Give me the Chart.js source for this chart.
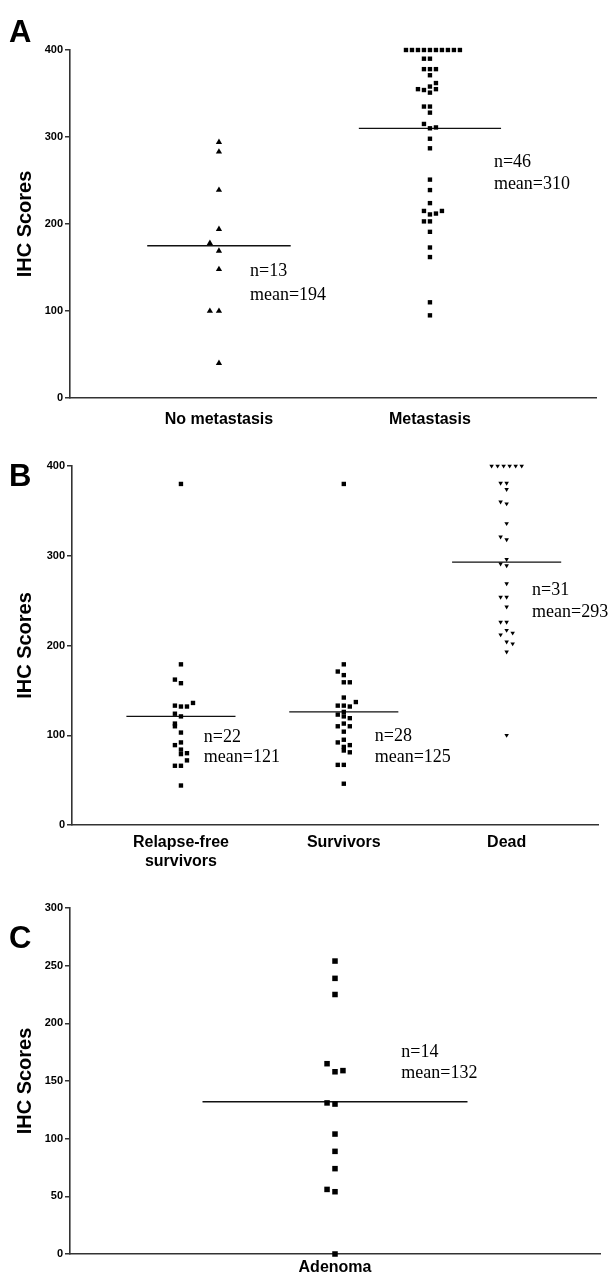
<!DOCTYPE html>
<html>
<head>
<meta charset="utf-8">
<script src="https://cdn.jsdelivr.net/npm/chart.js@4.4.1/dist/chart.umd.min.js"></script>
<style>
  html, body { margin: 0; padding: 0; background: #fff; }
  body { width: 611px; height: 1281px; position: relative; overflow: hidden; }
  canvas { position: absolute; left: 0; }
  .letter { position: absolute; left: 9px; font: bold 31px 'Liberation Sans', Arial, sans-serif; color: #000; line-height: 1; z-index: 2; }
</style>
</head>
<body>
<canvas id="chartA" width="611" height="440" style="top:0"></canvas>
<canvas id="chartB" width="611" height="440" style="top:440px"></canvas>
<canvas id="chartC" width="611" height="401" style="top:880px"></canvas>
<div class="letter" style="top:16px">A</div>
<div class="letter" style="top:460px">B</div>
<div class="letter" style="top:922px">C</div>
<script>
// ---- Panel A data ----
const catsA = ['No metastasis', 'Metastasis'];
const nA = [13, 46];
const meanTextA = [194, 310];
const meanLineA = [175, 310];
const noMetValues = [294, 283, 239, 194, 178, 169, 148, 100, 100, 40];
const noMetSlots  = [0, 0, 0, 0, -1, 0, 0, -1, 0, 0];
const metValues = [400, 400, 400, 400, 400, 400, 400, 400, 400, 400,
  390, 390, 378, 378, 378, 371, 362, 355, 354, 358, 351, 355,
  335, 335, 328, 315, 310, 311, 298, 287, 251, 239, 224,
  215, 211, 212, 215, 203, 203, 191, 173, 162, 110, 95];
const metSlots = [-4, -3, -2, -1, 0, 1, 2, 3, 4, 5,
  -1, 0, -1, 0, 1, 0, 1, -2, -1, 0, 0, 1,
  -1, 0, 0, -1, 0, 1, 0, 0, 0, 0, 0,
  -1, 0, 1, 2, -1, 0, 0, 0, 0, 0, 0];

// ---- Panel B data ----
const catsB = [['Relapse-free', 'survivors'], 'Survivors', 'Dead'];
const nB = [22, 28, 31];
const meanTextB = [121, 125, 293];
const meanLineB = [121, 126, 293];
const relapseValues = [380, 179, 162, 158, 133, 132, 132, 136, 124, 121, 113,
  110, 103, 92, 89, 84, 80, 79, 72, 66, 66, 44];
const relapseSlots = [0, 0, -1, 0, -1, 0, 1, 2, -1, 0, -1,
  -1, 0, 0, -1, 0, 1, 0, 1, -1, 0, 0];
const survValues = [380, 179, 171, 167, 159, 159, 142, 137, 133, 133, 132, 126,
  123, 121, 119, 113, 110, 110, 104, 95, 92, 89, 87, 83, 81, 67, 67, 46];
const survSlots = [0, 0, -1, 0, 0, 1, 0, 2, -1, 0, 1, 0,
  -1, 0, 1, 0, -1, 1, 0, 0, -1, 1, 0, 0, 1, -1, 0, 0];
const deadValues = [400, 400, 400, 400, 400, 400, 381, 381, 374, 360, 358, 336,
  321, 318, 296, 291, 289, 269, 254, 254, 243, 226, 226, 217, 214, 212,
  204, 202, 193, 100];
const deadSlots = [-2.5, -1.5, -0.5, 0.5, 1.5, 2.5, -1, 0, 0, -1, 0, 0,
  -1, 0, 0, -1, 0, 0, -1, 0, 0, -1, 0, 0, 1, -1,
  0, 1, 0, 0];

// ---- Panel C data ----
const catsC = ['Adenoma'];
const nC = [14];
const meanTextC = [132];
const meanLineC = [132];
const adenomaValues = [254, 239, 225, 165, 158, 159, 131, 130, 104, 89, 74, 56, 54, 0];
const adenomaSlots  = [0, 0, 0, -1, 0, 1, -1, 0, 0, 0, 0, -1, 0, 0];

const SANS = "'Liberation Sans', Arial, Helvetica, sans-serif";
const SERIF = "'Liberation Serif', 'Times New Roman', serif";
const AXIS = '#333';

function swarm(cat, values, slots, step) {
  return values.map((v, i) => ({ x: cat + slots[i] * step, y: v }));
}

function meanLine(cat, mean, half) {
  return { type: 'line', data: [{ x: cat - half, y: mean }, { x: cat + half, y: mean }],
    showLine: true, borderColor: '#111', borderWidth: 1.3, pointRadius: 0, clip: false };
}

function points(data, style, radius, rotation) {
  return { type: 'scatter', data, pointStyle: style, pointRadius: radius, pointRotation: rotation || 0,
    backgroundColor: '#000', borderWidth: 0, pointBorderWidth: 0, clip: false };
}

// n= / mean= notes drawn through the scales
const notesPlugin = {
  id: 'notes',
  afterDatasetsDraw(chart, args, opts) {
    const { ctx, scales: { x, y } } = chart;
    ctx.save();
    ctx.font = '18px ' + SERIF;
    ctx.fillStyle = '#000';
    ctx.textBaseline = 'middle';
    ctx.textAlign = 'left';
    (opts.items || []).forEach(n => {
      ctx.fillText(n.text, x.getPixelForValue(n.x), y.getPixelForValue(n.y));
    });
    ctx.restore();
  }
};

function makeOptions(o) {
  return {
    responsive: false,
    animation: false,
    layout: { padding: o.pad },
    plugins: { legend: { display: false }, tooltip: { enabled: false }, notes: { items: o.notes } },
    scales: {
      x: {
        type: 'linear', min: o.xMin, max: o.xMax,
        afterBuildTicks: axis => { axis.ticks = o.cats.map((c, i) => ({ value: i + 1 })); },
        afterFit: axis => { axis.height = o.xHeight; },
        ticks: {
          callback: (v, i) => o.cats[i],
          font: { family: SANS, size: 16, weight: 'bold' },
          color: '#000', padding: o.tickPad, maxRotation: 0, autoSkip: false
        },
        grid: { display: false, drawTicks: false },
        border: { color: AXIS, width: 1.6 }
      },
      y: {
        min: 0, max: o.yMax,
        afterFit: axis => { axis.width = o.yWidth; },
        ticks: { stepSize: o.yStep, font: { family: SANS, size: 11, weight: 'bold' }, color: '#000', padding: 2 },
        grid: { drawOnChartArea: false, tickLength: 5, color: AXIS, lineWidth: 1.5 },
        border: { color: AXIS, width: 1.6 },
        title: { display: true, text: 'IHC Scores', color: '#000',
          font: { family: SANS, size: 20, weight: 'bold' }, padding: { top: 13, bottom: 0 } }
      }
    }
  };
}

function notesFor(n, meanText, pos) {
  const items = [];
  n.forEach((v, i) => {
    items.push({ text: 'n=' + v, x: pos[i].x, y: pos[i].y1 });
    items.push({ text: 'mean=' + meanText[i], x: pos[i].x, y: pos[i].y2 });
  });
  return items;
}

// Panel A
new Chart(document.getElementById('chartA'), {
  type: 'scatter',
  data: { datasets: [
    points(swarm(1, noMetValues, noMetSlots, 0.043), 'triangle', 3.6),
    points(swarm(2, metValues, metSlots, 0.0284), 'rect', 3.1),
    meanLine(1, meanLineA[0], 0.34),
    meanLine(2, meanLineA[1], 0.337)
  ] },
  options: makeOptions({
    pad: { top: 50, right: 15, left: 0, bottom: 0 },
    xMin: 0.294, xMax: 2.787, xHeight: 42, tickPad: 12,
    yMax: 400, yStep: 100, yWidth: 70, cats: catsA,
    notes: notesFor(nA, meanTextA, [{ x: 1.147, y1: 146, y2: 118 }, { x: 2.303, y1: 271, y2: 246 }])
  }),
  plugins: [notesPlugin]
});

// Panel B
new Chart(document.getElementById('chartB'), {
  type: 'scatter',
  data: { datasets: [
    points(swarm(1, relapseValues, relapseSlots, 0.037), 'rect', 3.1),
    points(swarm(2, survValues, survSlots, 0.037), 'rect', 3.1),
    points(swarm(3, deadValues, deadSlots, 0.037), 'triangle', 2.6, 180),
    meanLine(1, meanLineB[0], 0.335),
    meanLine(2, meanLineB[1], 0.335),
    meanLine(3, meanLineB[2], 0.335)
  ] },
  options: makeOptions({
    pad: { top: 26, right: 13, left: 0, bottom: 0 },
    xMin: 0.331, xMax: 3.561, xHeight: 55, tickPad: 8,
    yMax: 400, yStep: 100, yWidth: 72, cats: catsB,
    notes: notesFor(nB, meanTextB, [
      { x: 1.14, y1: 98, y2: 75 }, { x: 2.19, y1: 99, y2: 76 }, { x: 3.156, y1: 262, y2: 237 }])
  }),
  plugins: [notesPlugin]
});

// Panel C
new Chart(document.getElementById('chartC'), {
  type: 'scatter',
  data: { datasets: [
    points(swarm(1, adenomaValues, adenomaSlots, 0.03), 'rect', 3.9),
    meanLine(1, meanLineC[0], 0.5)
  ] },
  options: makeOptions({
    pad: { top: 28, right: 11, left: 0, bottom: 0 },
    xMin: 0, xMax: 2, xHeight: 27, tickPad: 4,
    yMax: 300, yStep: 50, yWidth: 70, cats: catsC,
    notes: notesFor(nC, meanTextC, [{ x: 1.25, y1: 175, y2: 157 }])
  }),
  plugins: [notesPlugin]
});
</script>
</body>
</html>
